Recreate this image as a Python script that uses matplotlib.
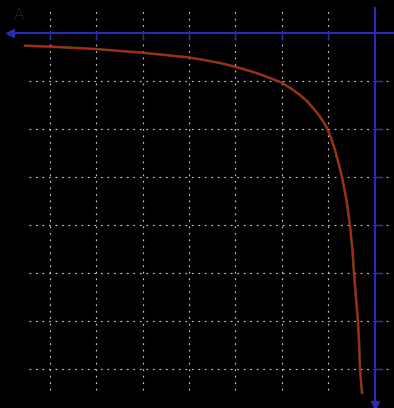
import matplotlib
matplotlib.use("Agg")
import matplotlib.pyplot as plt

# curve, in grid units (axes cross at top-right)
curve_x = [-7.527, -6.968, -6.022, -5.011, -4.022, -3.763, -3.333, -3.011,
           -2.688, -2.473, -2.258, -2.006, -1.806, -1.613, -1.462, -1.327,
           -1.215, -1.112, -1.032, -0.946, -0.860, -0.785, -0.710, -0.613,
           -0.538, -0.484, -0.452, -0.409, -0.366, -0.340, -0.323, -0.301,
           -0.280]
curve_y = [-0.265, -0.285, -0.333, -0.410, -0.506, -0.548, -0.625, -0.702,
           -0.792, -0.860, -0.9375, -1.035, -1.156, -1.292, -1.417, -1.569,
           -1.698, -1.848, -1.979, -2.1875, -2.4375, -2.708, -3.0, -3.479,
           -4.0, -4.521, -5.0, -5.5, -6.0, -6.5, -7.0, -7.25, -7.5]

grid_x = [-7, -6, -5, -4, -3, -2, -1]
grid_y = [-1, -2, -3, -4, -5, -6, -7]

axis_blue = "#2b2bb8"

fig = plt.figure(figsize=(3.94, 4.08), dpi=100, facecolor="black")
ax = fig.add_axes([0, 0, 1, 1])
ax.set_facecolor("black")
ax.set_xlim(-8.065, 0.409)
ax.set_ylim(-7.8125, 0.6875)
ax.axis("off")

# dotted grid, limited extent like the scope screen
ax.vlines(grid_x, -7.44, 0.52, colors="#c4c4c4", linewidth=0.85,
          linestyles=(0, (1.5, 4.0)), zorder=1)
ax.hlines(grid_y, -7.44, 0.34, colors="#c4c4c4", linewidth=0.85,
          linestyles=(0, (1.5, 4.0)), zorder=1)

# blue axes with arrows and ticks
ax.plot([-7.82, 0.41], [0, 0], color=axis_blue, lw=1.5, zorder=3)
ax.plot([0, 0], [0.52, -7.72], color=axis_blue, lw=1.5, zorder=3)
ax.plot(-7.85, 0, marker="<", ms=6, color=axis_blue, zorder=3)
ax.plot(0, -7.74, marker="v", ms=6, color=axis_blue, zorder=3)
for gx in grid_x:
    ax.plot([gx, gx], [0, -0.12], color=axis_blue, lw=1.0, zorder=3)
for gy in grid_y:
    ax.plot([0, 0.15], [gy, gy], color=axis_blue, lw=1.0, zorder=3)

ax.text(-7.656, 0.375, "A", color="#2a2a2a", fontsize=11, ha="center",
        va="center", fontweight="light", zorder=2)

# the trace: yellowish halo under a red core
ax.plot(curve_x, curve_y, color="#8c7a12", lw=1.9, alpha=0.55,
        solid_joinstyle="round", zorder=4)
ax.plot(curve_x, curve_y, color="#b3261c", lw=1.2,
        solid_joinstyle="round", zorder=5)

fig.savefig("out.png", dpi=100, facecolor="black")
